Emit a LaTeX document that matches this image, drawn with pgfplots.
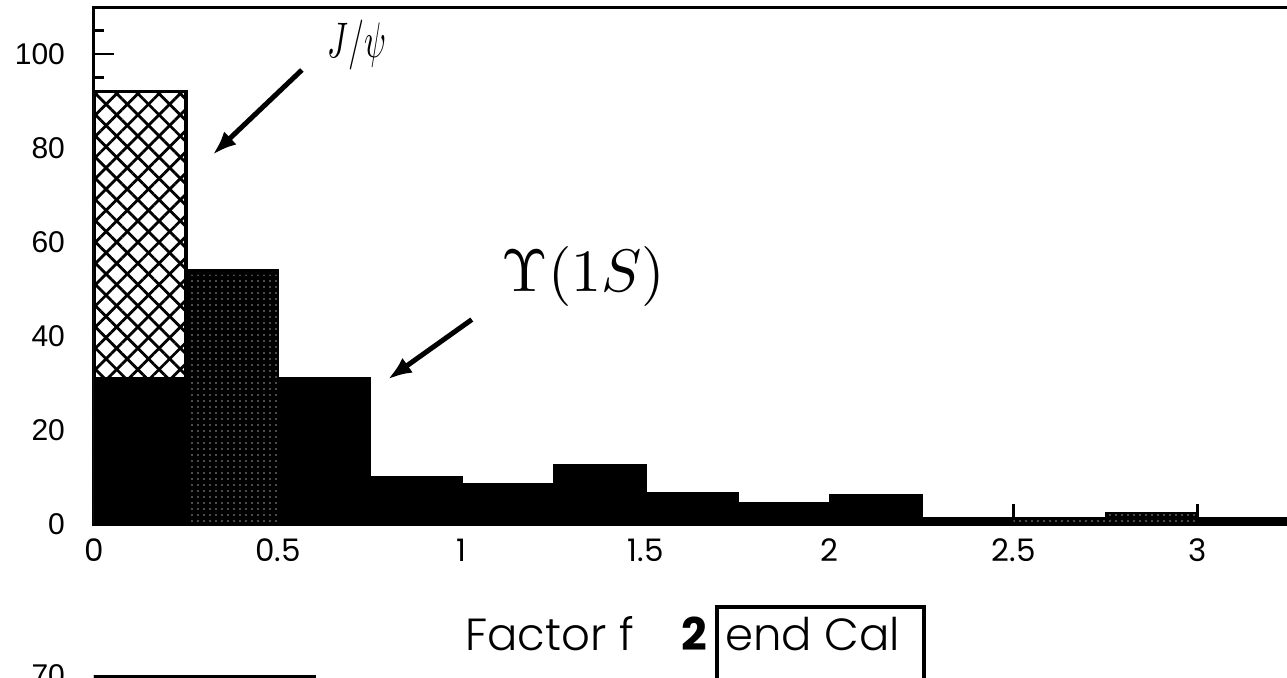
\documentclass[border=0pt]{standalone}
\usepackage{fontspec}
\setmainfont{Poppins}[UprightFont=* Light, BoldFont=* Bold]
\newfontfamily\popreg{Poppins}
\newfontfamily\ticksans{Liberation Sans}
\usepackage{graphicx}
\usepackage{pgfplots}
\pgfplotsset{compat=1.18}
\usetikzlibrary{patterns,patterns.meta,arrows.meta}
\begin{document}
\begin{tikzpicture}
\begin{axis}[
  at={(0,0)}, anchor=south west,
  scale only axis, width=607pt, height=258.5pt,
  xmin=0, xmax=3.3, ymin=0, ymax=110,
  axis line style={line width=1.5pt},
  tick style={line width=1.2pt, black},
  tick align=inside,
  xtick pos=left, ytick pos=left,
  xtick={0,0.5,1,1.5,2,2.5,3},
  xticklabels={0,0.5,1,1.5,2,2.5,3},
  ytick={0,20,40,60,80,100},
  minor ytick={5,10,15,25,30,35,45,50,55,65,70,75,85,90,95,105},
  major tick length=10pt, minor tick length=5pt,
  /pgf/number format/assume math mode=true,
  xticklabel style={font=\popreg\fontsize{15.5}{16}\selectfont, yshift=-4pt},
  yticklabel style={font=\ticksans\fontsize{15}{15}\selectfont, xshift=-11pt},
  xlabel={\fontsize{22.5}{23}\selectfont Factor f\hspace{24pt}{\bfseries 2}\hspace{4pt}\fboxsep=1pt\fboxrule=2pt\fbox{\rule[-16pt]{0pt}{35.5pt}\hspace{2pt}end Cal\hspace{10pt}}},
  xlabel style={at={(axis description cs:0.3056,-0.2437)}, anchor=base west, inner sep=0pt},
]
% J/psi (cross-hatched)
\addplot[const plot, draw=black, line width=1.8pt, fill=white,
  postaction={pattern={Lines[angle=45,distance=7.5pt,line width=1.4pt]}},
  postaction={pattern={Lines[angle=-45,distance=7.5pt,line width=1.4pt]}}]
  coordinates {(0,92) (0.25,92)} \closedcycle;
% Upsilon / solid histogram
\addplot[const plot, draw=black, fill=black, line width=1pt]
  coordinates {(0,31) (0.25,54) (0.5,31) (0.75,10) (1.0,8.5) (1.25,12.5) (1.5,6.5) (1.75,4.5) (2.0,6.2) (2.25,1.2) (2.5,1.2) (2.75,2.4) (3.0,1.2) (3.3,1.2)} \closedcycle;
% stippled parts
\addplot[const plot, draw=none, pattern={Dots[distance=3pt,radius=0.4pt]}, pattern color=gray!80]
  coordinates {(0.26,53) (0.5,53)} \closedcycle;
\addplot[const plot, draw=none, pattern={Dots[distance=3pt,radius=0.4pt]}, pattern color=gray!80]
  coordinates {(2.5,1) (2.75,2.2) (3.0,2.2)} \closedcycle;
% annotations
\node at (axis cs:0.715,102) {\scalebox{1.6}[2.5]{$J/\psi$}};
\draw[line width=2.5pt, -{Latex[length=12pt,width=9pt]}] (axis cs:0.565,96.6) -- (axis cs:0.323,78.6);
\node at (axis cs:1.33,52.7) {\scalebox{3}{$\Upsilon(1S)$}};
\draw[line width=2.5pt, -{Latex[length=12pt,width=9pt]}] (axis cs:1.027,43.5) -- (axis cs:0.799,30.8);
\end{axis}
% top of the next panel (cut off)
\begin{axis}[
  at={(0,-75.5pt)}, anchor=north west,
  scale only axis, width=607pt, height=200pt,
  xmin=0, xmax=3.3, ymin=0, ymax=70,
  axis line style={draw=none},
  xtick=\empty, ytick={70}, ytick pos=left, major tick length=0pt,
  /pgf/number format/assume math mode=true,
  yticklabel style={font=\ticksans\fontsize{15}{15}\selectfont, xshift=-11pt},
]
\addplot[const plot, draw=black, fill=black, line width=1pt]
  coordinates {(0,70) (0.6,70)} \closedcycle;
\end{axis}
\pgfresetboundingbox
\useasboundingbox (-47pt,-76.5pt) rectangle (596.5pt,262pt);
\end{tikzpicture}
\end{document}
